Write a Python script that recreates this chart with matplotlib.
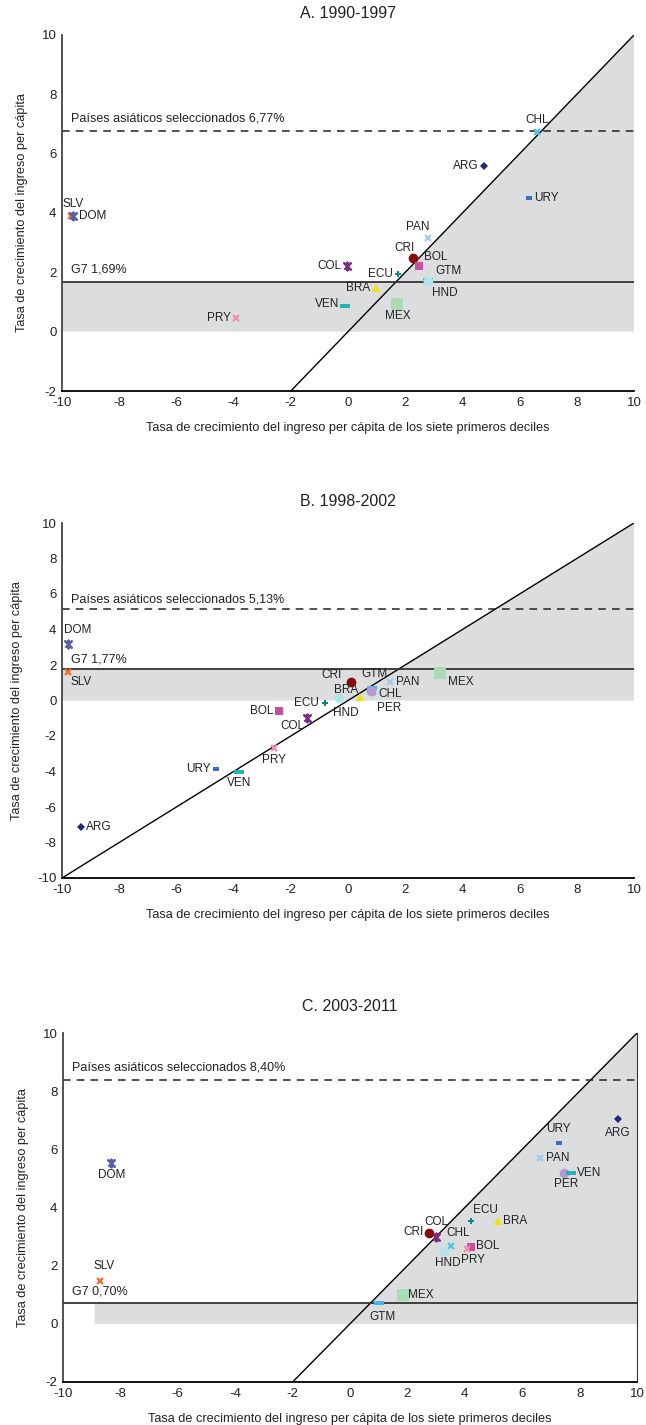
import matplotlib
matplotlib.use("Agg")
import matplotlib.pyplot as plt

plt.rcParams['font.family'] = ['Liberation Sans', 'DejaVu Sans']
plt.rcParams['axes.unicode_minus'] = False

# ---- data ----
# A. 1990-1997
a_country = ['SLV', 'DOM', 'CHL', 'ARG', 'URY', 'PAN', 'CRI', 'BOL', 'COL', 'ECU',
             'GTM', 'HND', 'BRA', 'VEN', 'MEX', 'PRY']
a_x = [-9.7, -9.6, 6.6, 4.75, 6.33, 2.8, 2.27, 2.47, -0.03, 1.75, 2.8, 2.8, 0.98, -0.1, 1.73, -3.9]
a_y = [3.9, 3.9, 6.73, 5.6, 4.5, 3.17, 2.48, 2.22, 2.22, 1.94, 1.75, 1.7, 1.46, 0.88, 0.92, 0.45]
a_g7, a_asia = 1.69, 6.77

# B. 1998-2002
b_country = ['DOM', 'SLV', 'CRI', 'GTM', 'PAN', 'MEX', 'BRA', 'CHL', 'PER', 'HND',
             'ECU', 'BOL', 'COL', 'PRY', 'URY', 'VEN', 'ARG']
b_x = [-9.8, -9.8, 0.1, 0.83, 1.47, 3.22, 0.42, 0.86, 0.82, -0.32, -0.82, -2.43, -1.44,
       -2.6, -4.6, -3.8, -9.35]
b_y = [3.17, 1.61, 1.03, 0.69, 1.05, 1.54, 0.22, 0.47, 0.55, 0.13, -0.13, -0.58, -0.96,
       -2.7, -3.86, -4.0, -7.15]
b_g7, b_asia = 1.77, 5.13

# C. 2003-2011
c_country = ['DOM', 'SLV', 'URY', 'ARG', 'PAN', 'PER', 'VEN', 'ECU', 'BRA', 'COL',
             'CRI', 'CHL', 'HND', 'BOL', 'PRY', 'MEX', 'GTM']
c_x = [-8.32, -8.7, 7.28, 9.34, 6.62, 7.44, 7.7, 4.2, 5.14, 3.0, 2.75, 3.51, 3.27, 4.2,
       4.09, 1.83, 1.0]
c_y = [5.52, 1.48, 6.22, 7.04, 5.71, 5.19, 5.17, 3.52, 3.52, 3.0, 3.11, 2.69, 2.49, 2.63,
       2.58, 0.98, 0.73]
c_g7, c_asia = 0.70, 8.40

# ---- styles ----
star = [(-1, -1), (1, 1), (0, 0), (-1, 1), (1, -1), (0, 0), (0, 1.2), (0, -1.2), (0, 0)]
dash = [(-1, -0.45), (1, -0.45), (1, 0.45), (-1, 0.45)]
STYLE = {
    'ARG': ('D', '#1f2a78', 4.5),
    'BOL': ('s', '#c4519c', 6),
    'BRA': ('^', '#f2e200', 6),
    'CHL': ('x', '#4cc6e4', 4.5),
    'COL': (star, '#7b2c83', 5.5),
    'CRI': ('o', '#8b0a0a', 7),
    'DOM': (star, '#5a5ea8', 5.5),
    'ECU': ('P', '#10868a', 5),
    'GTM': (dash, '#45b4ec', 7),
    'HND': ('o', '#b3e3ea', 7),
    'MEX': ('s', '#a9dbb4', 8),
    'PAN': ('x', '#9fcbf0', 4.5),
    'PER': ('o', '#b79ad3', 7),
    'PRY': ('x', '#f28cb1', 4.5),
    'SLV': ('x', '#f26d2b', 4.5),
    'URY': (dash, '#3d6ccf', 5),
    'VEN': (dash, '#22b3b3', 7),
}

# label placement: (dx, dy) in points, ha, va
P = {
    'l': (-4, 0, 'right', 'center'), 'r': (4, 0, 'left', 'center'),
    'a': (0, 4, 'center', 'bottom'), 'b': (0, -4, 'center', 'top'),
    'al': (1, 3, 'right', 'bottom'), 'ar': (3, 3, 'left', 'bottom'),
    'bl': (-1, -3, 'right', 'top'), 'br': (3, -3, 'left', 'top'),
}
a_pos = {'SLV': (2, 4, 'center', 'bottom'), 'DOM': 'r', 'CHL': 'a', 'ARG': 'l', 'URY': 'r',
         'PAN': 'al', 'CRI': 'al', 'BOL': (4, 2, 'left', 'bottom'), 'COL': 'l', 'ECU': 'l',
         'GTM': (5, 2, 'left', 'bottom'), 'HND': (3, -4, 'left', 'top'),
         'BRA': 'l', 'VEN': (-4, 1, 'right', 'center'), 'MEX': 'b', 'PRY': 'l'}
b_pos = {'DOM': (-3, 6, 'left', 'bottom'), 'SLV': (2, -3, 'left', 'top'),
         'CRI': (-7, 5, 'right', 'center'), 'GTM': (2, 6, 'center', 'bottom'), 'PAN': 'r',
         'MEX': (6, -2, 'left', 'top'), 'BRA': (-1, 5, 'right', 'center'),
         'CHL': (4, -1, 'left', 'center'), 'PER': (4, -8, 'left', 'top'),
         'HND': (5, -6, 'center', 'top'), 'ECU': 'l', 'BOL': 'l',
         'COL': (-2, -2, 'right', 'top'), 'PRY': 'b', 'URY': 'l', 'VEN': 'b', 'ARG': 'r'}
c_pos = {'DOM': 'b', 'SLV': (3, 6, 'center', 'bottom'), 'URY': (0, 6, 'center', 'bottom'),
         'ARG': (0, -6, 'center', 'top'), 'PAN': 'r', 'PER': (2, -4, 'center', 'top'),
         'VEN': 'r', 'ECU': (2, 4, 'left', 'bottom'), 'BRA': 'r', 'COL': (0, 6, 'center', 'bottom'),
         'CRI': (-4, 1, 'right', 'center'), 'CHL': (-3, 5, 'left', 'bottom'),
         'HND': (3, -4, 'center', 'top'), 'BOL': (4, 1, 'left', 'center'),
         'PRY': (4, -4, 'center', 'top'), 'MEX': 'r', 'GTM': (3, -6, 'center', 'top')}

XLAB = 'Tasa de crecimiento del ingreso per cápita de los siete primeros deciles'
YLAB = 'Tasa de crecimiento del ingreso per cápita'
SHADE = '#dcdddf'
TXT = '#222222'

fig = plt.figure(figsize=(6.46, 14.25), dpi=100)
W, H = 646, 1425


def make_ax(l, r, t, b):
    return fig.add_axes([l / W, 1 - b / H, (r - l) / W, (b - t) / H])


def pct(v):
    return ('%.2f' % v).replace('.', ',') + '%'


def panel(ax, title, countries, xs, ys, pos, g7, asia, ylim, band_x0,
          right_spine=False, title_pad=12):
    x0, x1 = -10, 10
    y0, y1 = ylim
    # shaded region: band 0..G7 plus zone under the 45-degree line
    ax.fill([band_x0, x1, x1, g7, band_x0], [0, 0, y1, g7, g7], color=SHADE, lw=0, zorder=0)
    d0 = max(x0, y0)
    ax.plot([d0, x1], [d0, x1], color='black', lw=1.0, zorder=1)
    ax.axhline(g7, color='#333333', lw=1.3, zorder=1)
    ax.axhline(asia, color='#222222', lw=1.1, ls=(0, (5, 4)), zorder=1)
    ax.text(-9.7, asia + 0.2, 'Países asiáticos seleccionados ' + pct(asia),
            fontsize=9, va='bottom', ha='left', color=TXT)
    ax.text(-9.7, g7 + 0.2, 'G7 ' + pct(g7), fontsize=9, va='bottom', ha='left', color=TXT)
    for c, x, y in zip(countries, xs, ys):
        m, col, s = STYLE[c]
        ax.plot([x], [y], marker=m, color=col, ms=s,
                mew=1.6 if (m == 'x' or m is star) else 0, ls='none', zorder=3)
        p = pos[c]
        dx, dy, ha, va = P[p] if isinstance(p, str) else p
        ax.annotate(c, (x, y), xytext=(dx, dy), textcoords='offset points',
                    ha=ha, va=va, fontsize=8.5, color=TXT, zorder=4)
    ax.set_xlim(x0, x1)
    ax.set_ylim(y0, y1)
    ax.set_xticks(range(-10, 11, 2))
    ax.set_yticks(range(y0, y1 + 1, 2))
    ax.tick_params(length=0, labelsize=9.5, colors=TXT, pad=4)
    for s in ('top', 'right'):
        ax.spines[s].set_visible(False)
    if right_spine:
        ax.spines['right'].set_visible(True)
        ax.spines['right'].set_color('#333333')
    ax.spines['left'].set_color('#444444')
    ax.spines['left'].set_linewidth(1.3)
    ax.spines['bottom'].set_color('black')
    ax.spines['bottom'].set_linewidth(1.3)
    ax.set_xlabel(XLAB, fontsize=9.2, color=TXT, labelpad=10)
    ax.set_ylabel(YLAB, fontsize=9.2, color=TXT, labelpad=10)
    ax.set_title(title, fontsize=11.5, color=TXT, pad=title_pad)


axA = make_ax(62, 634, 35, 391)
panel(axA, 'A. 1990-1997', a_country, a_x, a_y, a_pos, a_g7, a_asia, (-2, 10), -10)

axB = make_ax(62, 634, 523, 878)
panel(axB, 'B. 1998-2002', b_country, b_x, b_y, b_pos, b_g7, b_asia, (-10, 10), -10)

axC = make_ax(63, 637, 1033, 1382)
panel(axC, 'C. 2003-2011', c_country, c_x, c_y, c_pos, c_g7, c_asia, (-2, 10), -8.9,
      right_spine=True, title_pad=16)

fig.savefig('out.png', dpi=100)
